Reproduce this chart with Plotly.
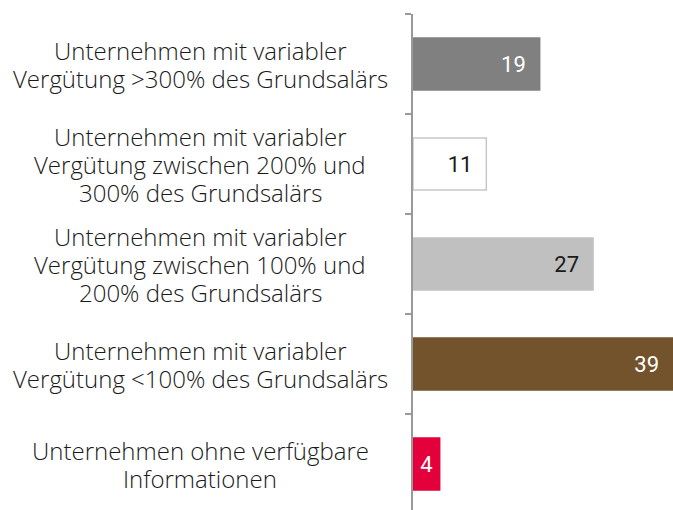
import plotly.graph_objects as go

# ── Daten ────────────────────────────────────────────────
kategorien = [
    ["Unternehmen mit variabler", "Vergütung >300% des Grundsalärs"],
    ["Unternehmen mit variabler", "Vergütung zwischen 200% und", "300% des Grundsalärs"],
    ["Unternehmen mit variabler", "Vergütung zwischen 100% und", "200% des Grundsalärs"],
    ["Unternehmen mit variabler", "Vergütung <100% des Grundsalärs"],
    ["Unternehmen ohne verfügbare", "Informationen"],
]
werte = [19, 11, 27, 39, 4]
farben = ["#808080", "#ffffff", "#c0c0c0", "#73532b", "#e4003b"]
rahmen = ["#808080", "#c8c8c8", "#c0c0c0", "#73532b", "#e4003b"]
textfarben = ["#ffffff", "#1a1a1a", "#1a1a1a", "#ffffff", "#ffffff"]

FONT = "Open Sans"
PAD = "\u00a0" * 2
ZEILE = 28  # Zeilenabstand der Beschriftungen in px

fig = go.Figure()
for i, (zeilen, v) in enumerate(zip(kategorien, werte)):
    klein = v < 6
    fig.add_trace(go.Bar(
        x=[v], y=[i],
        orientation="h",
        width=0.52,
        marker=dict(color=farben[i], line=dict(color=rahmen[i], width=1.5)),
        text=[str(v) if klein else f"{v}{PAD}"],
        textposition="inside",
        insidetextanchor="middle" if klein else "end",
        textfont=dict(family="Roboto", size=22, color=textfarben[i]),
        hoverinfo="skip",
    ))
    # Kategorie-Beschriftung zentriert links der Achse, Zeile für Zeile
    n = len(zeilen)
    for k, zeile in enumerate(zeilen):
        fig.add_annotation(
            x=-0.819, xref="paper", y=i, yref="y",
            yshift=-(k - (n - 1) / 2) * ZEILE,
            text=zeile, showarrow=False,
            xanchor="center", yanchor="middle", align="center",
            font=dict(family=FONT, size=24, weight=300, color="#1a1a1a"),
        )

fig.update_layout(
    width=673, height=510,
    margin=dict(l=413, r=0, t=14, b=0),
    barmode="overlay",
    showlegend=False,
    plot_bgcolor="#ffffff",
    paper_bgcolor="#ffffff",
    xaxis=dict(range=[0, 39], visible=False, fixedrange=True),
    yaxis=dict(
        range=[4.46, -0.5],
        tickvals=[-0.5, 0.5, 1.5, 2.5, 3.5],
        ticktext=[""] * 5,
        ticks="outside", ticklen=6, tickcolor="#999999", tickwidth=1.5,
        showline=True, linecolor="#999999", linewidth=1.5,
        showgrid=False, zeroline=False, fixedrange=True,
    ),
)

fig.write_html(
    "out.html",
    config={"displayModeBar": False},
    post_script="document.body.style.margin='0';document.body.style.overflow='hidden';",
)
